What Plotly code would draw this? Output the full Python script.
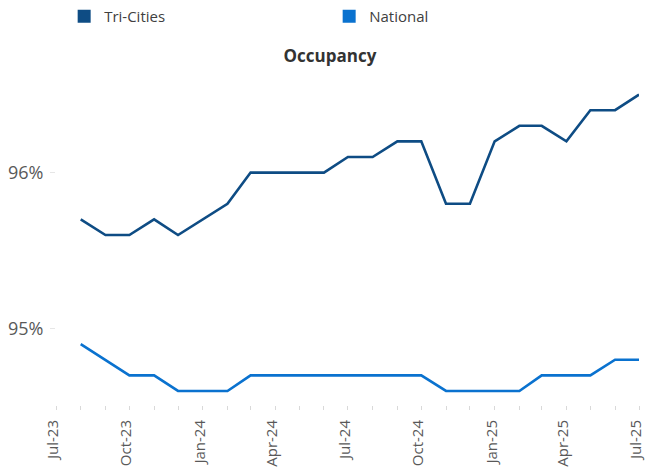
import plotly.graph_objects as go

months = ["2023-08-01", "2023-09-01", "2023-10-01", "2023-11-01", "2023-12-01",
          "2024-01-01", "2024-02-01", "2024-03-01", "2024-04-01", "2024-05-01",
          "2024-06-01", "2024-07-01", "2024-08-01", "2024-09-01", "2024-10-01",
          "2024-11-01", "2024-12-01", "2025-01-01", "2025-02-01", "2025-03-01",
          "2025-04-01", "2025-05-01", "2025-06-01", "2025-07-01"]
tri_cities = [95.7, 95.6, 95.6, 95.7, 95.6, 95.7, 95.8, 96.0, 96.0, 96.0, 96.0, 96.1,
              96.1, 96.2, 96.2, 95.8, 95.8, 96.2, 96.3, 96.3, 96.2, 96.4, 96.4, 96.5]
national = [94.9, 94.8, 94.7, 94.7, 94.6, 94.6, 94.6, 94.7, 94.7, 94.7, 94.7, 94.7,
            94.7, 94.7, 94.7, 94.6, 94.6, 94.6, 94.6, 94.7, 94.7, 94.7, 94.8, 94.8]
tick_dates = ["2023-07-01", "2023-10-01", "2024-01-01", "2024-04-01", "2024-07-01",
              "2024-10-01", "2025-01-01", "2025-04-01", "2025-07-01"]
tick_labels = ["Jul-23", "Oct-23", "Jan-24", "Apr-24", "Jul-24", "Oct-24",
               "Jan-25", "Apr-25", "Jul-25"]
y_ticks = [95, 96]
y_labels = ["95%", "96%"]

C_TRI = "#0E4C84"
C_NAT = "#0A72CF"
FONT = "Open Sans"

fig = go.Figure()
fig.add_trace(go.Scatter(x=months, y=tri_cities, mode="lines", name="Tri-Cities",
                         line=dict(color=C_TRI, width=2.6), showlegend=False))
fig.add_trace(go.Scatter(x=months, y=national, mode="lines", name="National",
                         line=dict(color=C_NAT, width=2.6), showlegend=False))
# legend swatches
fig.add_trace(go.Scatter(x=[None], y=[None], mode="markers", name="Tri-Cities",
                         marker=dict(symbol="square", size=13, color=C_TRI)))
fig.add_trace(go.Scatter(x=[None], y=[None], mode="markers", name="National",
                         marker=dict(symbol="square", size=13, color=C_NAT)))

fig.update_layout(
    width=647, height=471,
    margin=dict(l=56, r=8, t=79, b=66, autoexpand=False),
    paper_bgcolor="white", plot_bgcolor="white",
    font=dict(family=FONT, color="#595959"),
    title=dict(text="<b>Occupancy</b>", x=0.51, xanchor="center", y=0.88, yanchor="middle",
               font=dict(family=FONT, size=17, color="#333333")),
    legend=dict(orientation="h", x=0.014, xanchor="left", y=1.0, yref="container",
                yanchor="top", entrywidth=220, entrywidthmode="pixels",
                font=dict(family=FONT, size=15, color="#404040"),
                itemwidth=30, tracegroupgap=0),
)
fig.update_xaxes(
    type="date", range=["2023-07-01", "2025-07-01"], automargin=False,
    tickvals=tick_dates, ticktext=tick_labels, tickangle=-90,
    tickfont=dict(family=FONT, size=15, color="#595959"),
    ticklabelstandoff=4, ticklabelshift=-3, ticklabeloverflow="allow",
    showgrid=False, showline=False, zeroline=False,
    ticks="outside", ticklen=4, tickcolor="#D9D9D9",
    minor=dict(dtick="M1", tick0="2023-07-01", ticks="outside", ticklen=4,
               tickcolor="#D9D9D9", showgrid=False),
)
fig.update_yaxes(
    range=[94.51, 96.6], tickvals=y_ticks, ticktext=y_labels, automargin=False,
    tickfont=dict(family=FONT, size=18, color="#595959"),
    ticklabelstandoff=3,
    showgrid=False, showline=False, zeroline=False,
    ticks="outside", ticklen=5, tickcolor="#E6E6E6",
)

fig.write_html("out.html", config={"displayModeBar": False},
               post_script="document.body.style.margin='0px';")
